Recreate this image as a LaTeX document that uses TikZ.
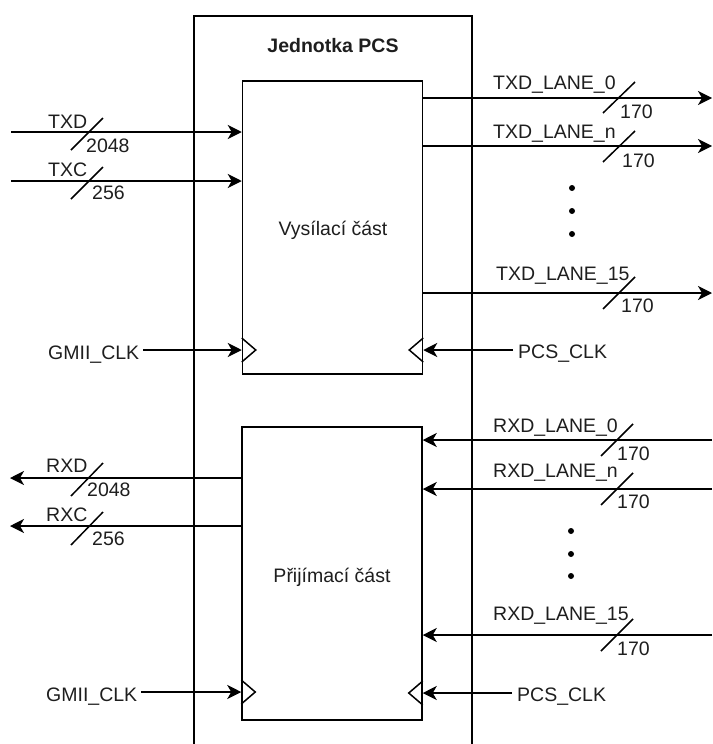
\documentclass[tikz,border=0pt]{standalone}
\usepackage{fontspec}
\setmainfont{Liberation Sans}
\usetikzlibrary{arrows.meta,calc}
\definecolor{txt}{HTML}{1E1E1E}
\begin{document}
\begin{tikzpicture}[x=1pt,y=-1pt,
  font=\fontsize{19.5}{23}\selectfont,
  sig/.style={line width=1.5pt, draw=black},
  arr/.style={sig, -{Stealth[length=14pt,width=14pt,inset=4pt]}},
  lbl/.style={anchor=base west, inner sep=0pt, text=txt},
  ctr/.style={anchor=base, inner sep=0pt, text=txt},
  blk/.style={draw=black, line width=1.5pt, minimum width=180pt, minimum height=293pt, inner sep=0pt},
  clk/.style={sig, line join=miter}]
\useasboundingbox (0,0) rectangle (712,744);
\fill[white] (0,0) rectangle (712,744);

% outer unit
\draw[line width=2.6pt] (194,748) -- (194,16) -- (472,16) -- (472,748);
\node[ctr, font=\fontsize{19.5}{23}\selectfont\bfseries] (title) at (333,52) {Jednotka PCS};

% blocks
\node[blk] (tx) at (332.5,227.5) {};
\node[blk] (rx) at (332,573.5) {};
\node[ctr] (txt1) at (333,235) {Vysílací část};
\node[ctr] (txt2) at (332,582) {Přijímací část};

% ---------- transmit side ----------
\coordinate (txdin) at (11,132);
\coordinate (txcin) at (11,181);
\draw[arr] (txdin) -- (tx.west |- txdin);
\draw[arr] (txcin) -- (tx.west |- txcin);
\draw[sig] (71,150) -- (103,118);
\draw[sig] (71,199) -- (103,167);
\node[lbl] (ltxd) at (48,128) {TXD};
\node[lbl] (ltxdw) at (86,152) {2048};
\node[lbl] (ltxc) at (48,176) {TXC};
\node[lbl] (ltxcw) at (92,199) {256};

\coordinate (tl0) at (712,98);
\coordinate (tln) at (712,146);
\coordinate (tl15) at (712,293);
\draw[arr] (tx.east |- tl0) -- (tl0);
\draw[arr] (tx.east |- tln) -- (tln);
\draw[arr] (tx.east |- tl15) -- (tl15);
\draw[sig] (603,113) -- (635,82);
\draw[sig] (603,162) -- (635,131);
\draw[sig] (603,309) -- (635,277);
\node[lbl] (ltl0) at (493,89) {TXD\_LANE\_0};
\node[lbl] (ltl0w) at (620,118) {170};
\node[lbl] (ltln) at (493,138) {TXD\_LANE\_n};
\node[lbl] (ltlnw) at (622,167) {170};
\node[lbl] (ltl15) at (496,280) {TXD\_LANE\_15};
\node[lbl] (ltl15w) at (621,312) {170};
\fill (572,188) circle (3pt);
\fill (572,211) circle (3pt);
\fill (572,234) circle (3pt);

% clocks transmit
\coordinate (gc1) at (143,350);
\coordinate (pc1) at (513,350);
\draw[arr] (gc1) -- (tx.west |- gc1);
\draw[arr] (pc1) -- (tx.east |- pc1);
\draw[clk] ($(tx.west |- gc1)+(0,-12)$) -- ++(14,12) -- ++(-14,12);
\draw[clk] ($(tx.east |- pc1)+(0,-12)$) -- ++(-14,12) -- ++(14,12);
\node[lbl] (lgc1) at (48,359) {GMII\_CLK};
\node[lbl] (lpc1) at (518,358) {PCS\_CLK};

% ---------- receive side ----------
\coordinate (rxdout) at (10,478);
\coordinate (rxcout) at (10,526);
\draw[arr] (rx.west |- rxdout) -- (rxdout);
\draw[arr] (rx.west |- rxcout) -- (rxcout);
\draw[sig] (71,496) -- (103,463);
\draw[sig] (71,545) -- (103,512);
\node[lbl] (lrxd) at (46,472) {RXD};
\node[lbl] (lrxdw) at (87,496) {2048};
\node[lbl] (lrxc) at (46,521) {RXC};
\node[lbl] (lrxcw) at (92,545) {256};

\coordinate (rl0) at (712,440);
\coordinate (rln) at (712,489);
\coordinate (rl15) at (712,635);
\draw[arr] (rl0) -- (rx.east |- rl0);
\draw[arr] (rln) -- (rx.east |- rln);
\draw[arr] (rl15) -- (rx.east |- rl15);
\draw[sig] (601,456) -- (633,424);
\draw[sig] (601,505) -- (633,473);
\draw[sig] (601,651) -- (633,619);
\node[lbl] (lrl0) at (493,432) {RXD\_LANE\_0};
\node[lbl] (lrl0w) at (617,460) {170};
\node[lbl] (lrln) at (493,477) {RXD\_LANE\_n};
\node[lbl] (lrlnw) at (617,508) {170};
\node[lbl] (lrl15) at (493,620) {RXD\_LANE\_15};
\node[lbl] (lrl15w) at (617,655) {170};
\fill (571,531) circle (3pt);
\fill (571,554) circle (3pt);
\fill (571,576) circle (3pt);

% clocks receive
\coordinate (gc2) at (141,692);
\coordinate (pc2) at (512,693);
\draw[arr] (gc2) -- (rx.west |- gc2);
\draw[arr] (pc2) -- (rx.east |- pc2);
\draw[clk] ($(rx.west |- gc2)+(0,-12)$) -- ++(14,12) -- ++(-14,12);
\draw[clk] ($(rx.east |- pc2)+(0,-12)$) -- ++(-14,12) -- ++(14,12);
\node[lbl] (lgc2) at (46,701) {GMII\_CLK};
\node[lbl] (lpc2) at (517,701) {PCS\_CLK};
\end{tikzpicture}
\end{document}
